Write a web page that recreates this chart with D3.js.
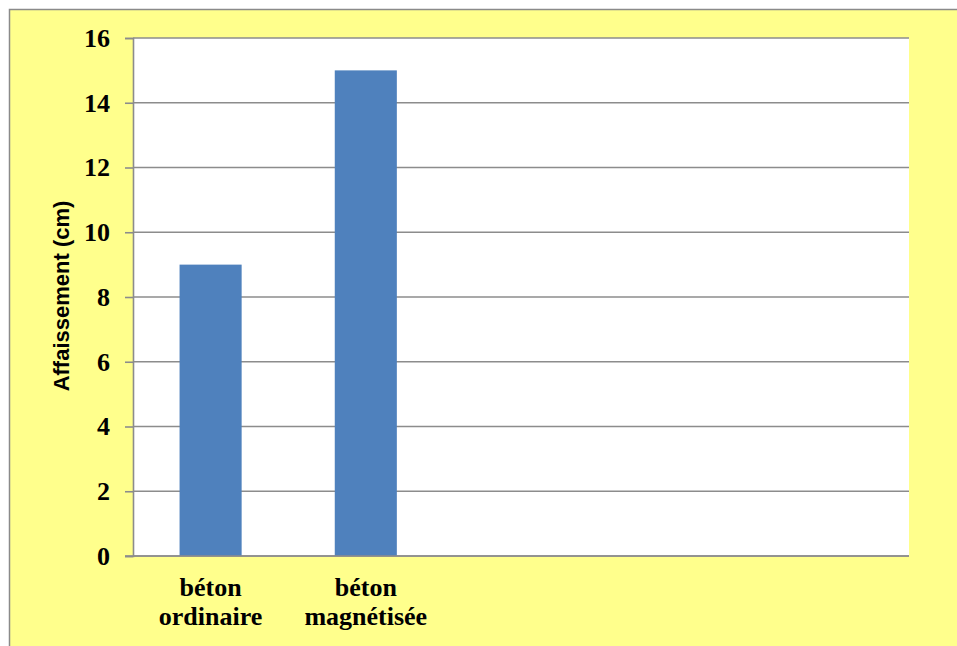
<!DOCTYPE html>
<html>
<head>
<meta charset="utf-8">
<script src="https://cdn.jsdelivr.net/npm/d3@7"></script>
<style>
  html, body { margin: 0; padding: 0; background: #ffffff; }
  svg { display: block; }
</style>
</head>
<body>
<svg id="chart" width="957" height="646"></svg>
<script>
// Slump test results: ordinary vs magnetised concrete
const categories = ["béton ordinaire", "béton magnétisée", "", "", ""];
const slump = [9, 15, null, null, null];
const yTicks = [0, 2, 4, 6, 8, 10, 12, 14, 16];
const yTitle = "Affaissement (cm)";

const svg = d3.select("#chart");
const W = 957, H = 646;
const plot = { left: 133, top: 38, right: 909, bottom: 556 };

// chart area background and frame
svg.append("rect")
  .attr("x", 9.5).attr("y", 9.5)
  .attr("width", W).attr("height", H)
  .attr("fill", "#ffff8c")
  .attr("stroke", "#8a8a8a").attr("stroke-width", 1.5);

// plot area
svg.append("rect")
  .attr("x", plot.left).attr("y", plot.top)
  .attr("width", plot.right - plot.left).attr("height", plot.bottom - plot.top)
  .attr("fill", "#ffffff");

const x = d3.scaleBand()
  .domain(d3.range(categories.length))
  .range([plot.left, plot.right])
  .paddingInner(0.6)
  .paddingOuter(0.3);

const y = d3.scaleLinear()
  .domain([0, 16])
  .range([plot.bottom, plot.top]);

// horizontal gridlines
svg.append("g")
  .selectAll("line")
  .data(yTicks)
  .join("line")
  .attr("x1", plot.left).attr("x2", plot.right)
  .attr("y1", d => y(d)).attr("y2", d => y(d))
  .attr("stroke", "#8c8c8c").attr("stroke-width", 1.6);

// bars
svg.append("g")
  .selectAll("rect")
  .data(slump.map((v, i) => ({ i, v })).filter(d => d.v != null))
  .join("rect")
  .attr("x", d => x(d.i))
  .attr("width", x.bandwidth())
  .attr("y", d => y(d.v))
  .attr("height", d => y(0) - y(d.v))
  .attr("fill", "#4f81bd");

// y axis
const yAxis = svg.append("g")
  .attr("transform", `translate(${plot.left},0)`)
  .call(d3.axisLeft(y).tickValues(yTicks).tickSize(8).tickPadding(15).tickFormat(d3.format("d")));
yAxis.select(".domain").attr("stroke", "#8c8c8c").attr("stroke-width", 1.6);
yAxis.selectAll(".tick line").attr("stroke", "#8c8c8c").attr("stroke-width", 1.6);
yAxis.selectAll(".tick text")
  .attr("font-family", "'Liberation Serif', 'Times New Roman', serif")
  .attr("font-weight", "bold")
  .attr("font-size", 26)
  .attr("fill", "#000");

// baseline
svg.append("line")
  .attr("x1", plot.left - 8).attr("x2", plot.right)
  .attr("y1", y(0)).attr("y2", y(0))
  .attr("stroke", "#8c8c8c").attr("stroke-width", 1.6);

// category labels (wrapped on two lines)
const xLabels = svg.append("g")
  .selectAll("text")
  .data(categories.map((c, i) => ({ c, i })).filter(d => d.c))
  .join("text")
  .attr("x", d => x(d.i) + x.bandwidth() / 2)
  .attr("y", 596)
  .attr("text-anchor", "middle")
  .attr("font-family", "'Liberation Serif', 'Times New Roman', serif")
  .attr("font-weight", "bold")
  .attr("font-size", 26)
  .attr("fill", "#000");
xLabels.each(function (d) {
  const words = d.c.split(" ");
  const t = d3.select(this);
  words.forEach((w, k) => {
    t.append("tspan")
      .attr("x", x(d.i) + x.bandwidth() / 2)
      .attr("dy", k === 0 ? 0 : 29)
      .text(w);
  });
});

// y axis title
svg.append("text")
  .attr("transform", "translate(69,296) rotate(-90)")
  .attr("text-anchor", "middle")
  .attr("font-family", "'Liberation Sans', Arial, sans-serif")
  .attr("font-weight", "bold")
  .attr("font-size", 22)
  .attr("fill", "#000")
  .text(yTitle);
</script>
</body>
</html>
